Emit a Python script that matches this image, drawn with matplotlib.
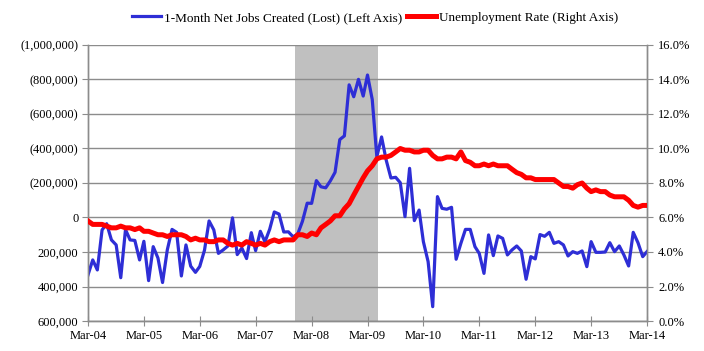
import matplotlib
matplotlib.use("Agg")
import matplotlib.pyplot as plt
import matplotlib.dates as mdates
from matplotlib.ticker import FuncFormatter, FixedLocator
import pandas as pd

# ---- data ----
start_month = "2004-03-01"
# Monthly net jobs created (lost), Mar-2004 .. Mar-2014
jobs = [
    333, 246, 304, 72, 36, 130, 159, 349, 70, 130,                      # 2004 Mar-Dec
    133, 246, 138, 366, 169, 235, 377, 188, 69, 86, 339, 159,           # 2005
    282, 318, 284, 190, 20, 72, 208, 188, 165, 2, 215, 177,             # 2006
    238, 88, 192, 80, 141, 68, -32, -20, 84, 83, 112, 96,               # 2007
    22, -83, -82, -214, -178, -172, -212, -262, -452, -473, -769, -700, # 2008
    -801, -704, -826, -684, -352, -467, -333, -229, -233, -202, -5, -285,  # 2009
    18, -43, 140, 256, 517, -121, -53, -48, -59, 242, 150, 69,          # 2010
    69, 169, 208, 324, 101, 221, 107, 121, 217, 188, 165, 194,          # 2011
    358, 227, 240, 99, 109, 86, 150, 140, 159, 223, 198, 208,           # 2012
    194, 285, 140, 202, 202, 200, 146, 198, 165, 217, 281, 86,          # 2013
    146, 227, 198,                                                      # 2014 Jan-Mar
]
jobs = [v * 1000 for v in jobs]

# Unemployment rate (%), Mar-2004 .. Mar-2014
unemp = [
    5.8, 5.6, 5.6, 5.6, 5.5, 5.4, 5.4, 5.5, 5.4, 5.4,
    5.3, 5.4, 5.2, 5.2, 5.1, 5.0, 5.0, 4.9, 5.0, 5.0, 5.0, 4.9,
    4.7, 4.8, 4.7, 4.7, 4.6, 4.6, 4.7, 4.7, 4.5, 4.4, 4.5, 4.4,
    4.6, 4.5, 4.4, 4.5, 4.4, 4.6, 4.7, 4.6, 4.7, 4.7, 4.7, 5.0,
    5.0, 4.9, 5.1, 5.0, 5.4, 5.6, 5.8, 6.1, 6.1, 6.5, 6.8, 7.3,
    7.8, 8.3, 8.7, 9.0, 9.4, 9.5, 9.5, 9.6, 9.8, 10.0, 9.9, 9.9,
    9.8, 9.8, 9.9, 9.9, 9.6, 9.4, 9.4, 9.5, 9.5, 9.4, 9.8, 9.3,
    9.2, 9.0, 9.0, 9.1, 9.0, 9.1, 9.0, 9.0, 9.0, 8.8, 8.6, 8.5,
    8.3, 8.3, 8.2, 8.2, 8.2, 8.2, 8.2, 8.0, 7.8, 7.8, 7.7, 7.9,
    8.0, 7.7, 7.5, 7.6, 7.5, 7.5, 7.3, 7.2, 7.2, 7.2, 7.0, 6.7,
    6.6, 6.7, 6.7,
]
unemp = [v / 100 for v in unemp]

recession = ("2007-11-14", "2009-05-07")
left_ticks = [-1000000, -800000, -600000, -400000, -200000, 0, 200000, 400000, 600000]
right_ticks = [0.0, 0.02, 0.04, 0.06, 0.08, 0.10, 0.12, 0.14, 0.16]
series_names = ["1-Month Net Jobs Created (Lost) (Left Axis)", "Unemployment Rate (Right Axis)"]

dates = pd.date_range(start_month, periods=len(jobs), freq="MS")

# ---- style ----
plt.rcParams["font.family"] = ["Liberation Serif", "DejaVu Serif"]
plt.rcParams["font.size"] = 9
GRID = "#8c8c8c"
BLUE = "#2E2ED6"
RED = "#FF0000"

fig = plt.figure(figsize=(7.04, 3.51), dpi=100)
ax = fig.add_axes([88 / 704, 1 - 321 / 351, (647 - 88) / 704, (321 - 45) / 351])
ax2 = ax.twinx()

ax.axvspan(pd.Timestamp(recession[0]), pd.Timestamp(recession[1]),
           color="#C0C0C0", lw=0, zorder=1)
ax.plot(dates, jobs, color=BLUE, lw=2.3, zorder=3, solid_joinstyle="round",
        label=series_names[0])
ax2.plot(dates, unemp, color=RED, lw=3.6, zorder=3, solid_joinstyle="round",
         label=series_names[1])

ax.set_xlim(dates[0], dates[-1])
ax.set_ylim(left_ticks[-1], left_ticks[0])  # inverted
ax2.set_ylim(right_ticks[0], right_ticks[-1])

ax.yaxis.set_major_locator(FixedLocator(left_ticks))
ax2.yaxis.set_major_locator(FixedLocator(right_ticks))


def fmt_jobs(v, pos):
    if abs(v) < 1:
        return "0"
    if v < 0:
        return "({:,.0f})".format(-v)
    return "{:,.0f}".format(v)


ax.yaxis.set_major_formatter(FuncFormatter(fmt_jobs))
ax2.yaxis.set_major_formatter(FuncFormatter(lambda v, p: "{:.1f}%".format(v * 100)))

ax.xaxis.set_major_locator(mdates.MonthLocator(bymonth=3))
ax.xaxis.set_major_formatter(mdates.DateFormatter("%b-%y"))

ax.grid(axis="y", color=GRID, lw=1.0)
ax.set_axisbelow("line")

for a in (ax, ax2):
    a.spines["top"].set_visible(False)
    for s in ("left", "right", "bottom"):
        a.spines[s].set_color(GRID)
        a.spines[s].set_linewidth(1.0)
ax.tick_params(axis="x", direction="inout", length=7, color=GRID, pad=3, labelsize=9)
ax.tick_params(axis="y", direction="out", length=4, color=GRID, pad=3, labelsize=9)
ax2.tick_params(axis="y", direction="out", length=4, color=GRID, pad=4, labelsize=9)
ax.set_facecolor("white")

h1, l1 = ax.get_legend_handles_labels()
h2, l2 = ax2.get_legend_handles_labels()
leg = fig.legend(h1 + h2, l1 + l2, loc="center", ncol=2,
                 bbox_to_anchor=(375 / 704, 1 - 18 / 351), frameon=False,
                 handlelength=2.2, handletextpad=0.2, columnspacing=0.4,
                 fontsize=9.5)

fig.savefig("out.png", dpi=100)
